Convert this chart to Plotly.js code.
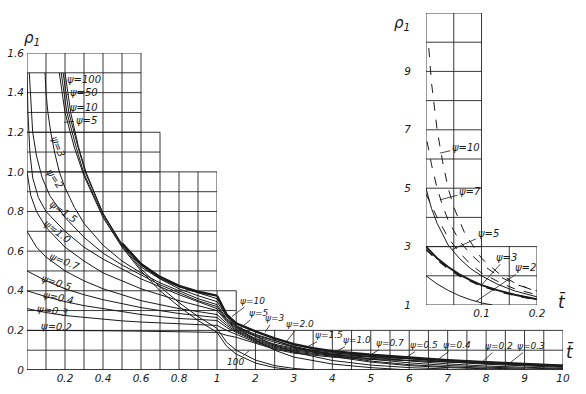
<!DOCTYPE html>
<html><head><meta charset="utf-8">
<script src="https://cdn.plot.ly/plotly-3.0.1.min.js"></script>
<style>html,body{margin:0;padding:0;background:#fff}#chart{width:586px;height:394px}</style>
</head><body><div id="chart"></div>
<script>
// ================= DATA =================
const yTickVals = [0, 0.2, 0.4, 0.6, 0.8, 1.0, 1.2, 1.4, 1.6];
const yTickText = ['0', '0.2', '0.4', '0.6', '0.8', '1.0', '1.2', '1.4', '1.6'];
const xLeftTickVals = [0.2, 0.4, 0.6, 0.8, 1];
const xLeftTickText = ['0.2', '0.4', '0.6', '0.8', '1'];
const xRightTickVals = [2, 3, 4, 5, 6, 7, 8, 9, 10];
const xRightTickText = ['2', '3', '4', '5', '6', '7', '8', '9', '10'];
const insetXTickVals = [0.1, 0.2];
const insetXTickText = ['0.1', '0.2'];
const insetYTickVals = [1, 3, 5, 7, 9];
const insetYTickText = ['1', '3', '5', '7', '9'];

// main chart curves  rho1(t) for each psi
const t_psi100 = [0.17,0.2,0.25,0.3,0.4,0.5,0.6,0.7,0.8,0.9,1,1.25,1.5,2,2.5,3];
const r_psi100 = [1.5,1.3,1.12,0.98,0.77,0.62,0.5,0.4,0.32,0.25,0.19,0.12,0.08,0.035,0.012,0];
const t_psi50 = [0.18,0.21,0.26,0.3,0.4,0.5,0.6,0.7,0.8,0.9,1,1.25,1.5,2,2.5,3,3.5];
const r_psi50 = [1.5,1.3,1.12,0.99,0.78,0.625,0.51,0.42,0.34,0.27,0.21,0.14,0.1,0.05,0.022,0.008,0];
const t_psi10 = [0.2,0.23,0.27,0.31,0.4,0.5,0.6,0.7,0.8,0.9,1,1.25,1.5,2,2.5,3,4,5,6];
const r_psi10 = [1.5,1.3,1.13,1.0,0.79,0.63,0.52,0.46,0.42,0.39,0.36,0.275,0.22,0.15,0.1,0.065,0.03,0.012,0];
const t_psi5 = [0.19,0.22,0.27,0.31,0.4,0.5,0.6,0.7,0.8,0.9,1,1.25,1.5,2,2.5,3,4,5,6,7];
const r_psi5 = [1.5,1.3,1.12,0.99,0.79,0.635,0.53,0.46,0.41,0.375,0.345,0.27,0.225,0.17,0.125,0.09,0.048,0.025,0.012,0.005];
const t_psi3 = [0.095,0.1,0.11,0.125,0.145,0.17,0.2,0.25,0.3,0.4,0.5,0.6,0.7,0.8,0.9,1,1.25,1.5,2,2.5,3,4,5,6,7,8];
const r_psi3 = [1.5,1.4,1.3,1.2,1.1,1.0,0.92,0.82,0.74,0.63,0.55,0.49,0.44,0.4,0.36,0.33,0.26,0.22,0.18,0.15,0.115,0.068,0.04,0.022,0.012,0.006];
const t_psi2 = [0.012,0.02,0.03,0.05,0.08,0.12,0.2,0.3,0.4,0.5,0.6,0.7,0.8,0.9,1,1.25,1.5,2,2.5,3,4,5,6,7,8,9];
const r_psi2 = [1.5,1.35,1.2,1.08,0.97,0.88,0.77,0.67,0.59,0.53,0.48,0.43,0.39,0.35,0.32,0.255,0.215,0.175,0.148,0.12,0.075,0.045,0.027,0.016,0.009,0.005];
const t_psi15 = [0,0.005,0.015,0.03,0.06,0.1,0.2,0.3,0.4,0.5,0.6,0.7,0.8,0.9,1,1.25,1.5,2,2.5,3,4,5,6,7,8,9,10];
const r_psi15 = [1.5,1.3,1.1,0.97,0.87,0.8,0.7,0.62,0.56,0.51,0.46,0.42,0.38,0.345,0.31,0.25,0.21,0.17,0.14,0.115,0.08,0.055,0.036,0.023,0.014,0.008,0.005];
const t_psi10b = [0,0.02,0.05,0.1,0.2,0.3,0.4,0.5,0.6,0.7,0.8,0.9,1,1.25,1.5,2,2.5,3,4,5,6,7,8,9,10];
const r_psi10b = [1.0,0.88,0.8,0.72,0.62,0.55,0.49,0.45,0.41,0.38,0.35,0.325,0.30,0.245,0.205,0.16,0.13,0.11,0.09,0.066,0.046,0.031,0.02,0.013,0.008];
const t_psi07 = [0,0.05,0.1,0.2,0.3,0.4,0.5,0.6,0.7,0.8,0.9,1,1.25,1.5,2,2.5,3,4,5,6,7,8,9,10];
const r_psi07 = [0.7,0.62,0.57,0.5,0.45,0.41,0.38,0.35,0.33,0.31,0.295,0.28,0.235,0.2,0.155,0.125,0.105,0.085,0.075,0.057,0.041,0.029,0.02,0.013];
const t_low = [0,0.1,0.2,0.3,0.4,0.5,0.6,0.7,0.8,0.9,1,1.25,1.5,2,2.5,3,4,5,6,7,8,9,10];
const r_psi05 = [0.5,0.45,0.41,0.38,0.355,0.335,0.315,0.3,0.285,0.275,0.265,0.225,0.195,0.15,0.12,0.1,0.08,0.07,0.06,0.047,0.035,0.025,0.017];
const r_psi04 = [0.4,0.37,0.345,0.325,0.31,0.295,0.28,0.27,0.26,0.255,0.25,0.215,0.19,0.145,0.115,0.095,0.075,0.064,0.056,0.05,0.039,0.029,0.02];
const r_psi03 = [0.31,0.29,0.275,0.265,0.255,0.248,0.242,0.237,0.232,0.228,0.225,0.2,0.18,0.14,0.11,0.09,0.07,0.058,0.048,0.04,0.032,0.025,0.02];
const t_psi02 = [0,0.2,0.4,0.6,0.8,1,1.25,1.5,2,2.5,3,4,5,6,7,8,9,10];
const r_psi02 = [0.2,0.2,0.198,0.196,0.193,0.19,0.175,0.165,0.135,0.105,0.085,0.065,0.053,0.046,0.042,0.038,0.03,0.024];
// thick boundary line
const t_env = [0.5,0.6,0.7,0.8,0.9,1,1.25,1.5,2,2.5,3,3.5,4,5,6,7,8,9,10];
const r_env = [0.64,0.535,0.47,0.425,0.395,0.375,0.28,0.235,0.195,0.16,0.13,0.11,0.095,0.077,0.062,0.05,0.04,0.03,0.022];

// inset curves
const ti_psi10 = [0.005,0.01,0.02,0.03,0.04,0.05,0.07,0.1,0.13,0.16,0.2];
const ri_psi10 = [9.8,8.6,7.0,5.9,5.0,4.35,3.45,2.6,2.1,1.75,1.45];
const ti_psi7 = [0.002,0.01,0.02,0.03,0.04,0.06,0.08,0.1,0.13,0.16,0.2];
const ri_psi7 = [6.6,5.8,5.0,4.4,3.9,3.2,2.75,2.4,2.0,1.72,1.48];
const ti_psi5 = [0,0.01,0.02,0.03,0.04,0.06,0.08,0.1,0.13,0.16,0.2];
const ri_psi5 = [5,4.3,3.8,3.4,3.05,2.6,2.25,2.0,1.7,1.48,1.28];
const ti_psi5d = [0,0.01,0.02,0.04,0.06,0.08,0.1,0.13,0.16,0.2];
const ri_psi5d = [4.8,4.4,4.0,3.3,2.8,2.4,2.1,1.8,1.55,1.35];
const ti_psi3 = [0,0.02,0.04,0.06,0.08,0.1,0.13,0.16,0.2];
const ri_psi3 = [3,2.6,2.3,2.05,1.85,1.68,1.5,1.35,1.2];
const ri_psi3d = [2.9,2.55,2.25,2.0,1.82,1.65,1.47,1.33,1.18];
const ti_psi2 = [0,0.02,0.04,0.06,0.08,0.1,0.12];
const ri_psi2 = [2,1.72,1.5,1.32,1.18,1.07,1.0];

// ================= BUILD =================
const W = 586, H = 394;
const INK = '#1a1a1a';
const FONT = 'DejaVu Sans';
const traces = [];

function addMain(t, r, width) {
  const lx = [], ly = [], rx = [], ry = [];
  t.forEach((v, i) => {
    if (v <= 1) { lx.push(v); ly.push(r[i]); }
    if (v >= 1) { rx.push(v); ry.push(r[i]); }
  });
  const line = {color: INK, width: width || 1};
  if (lx.length > 1) traces.push({x: lx, y: ly, xaxis: 'x', yaxis: 'y', mode: 'lines', line, hoverinfo: 'skip', showlegend: false});
  if (rx.length > 1) traces.push({x: rx, y: ry, xaxis: 'x2', yaxis: 'y', mode: 'lines', line, hoverinfo: 'skip', showlegend: false});
}
[[t_psi100, r_psi100], [t_psi50, r_psi50], [t_psi10, r_psi10], [t_psi5, r_psi5], [t_psi3, r_psi3],
 [t_psi2, r_psi2], [t_psi15, r_psi15], [t_psi10b, r_psi10b], [t_psi07, r_psi07],
 [t_low, r_psi05], [t_low, r_psi04], [t_low, r_psi03], [t_psi02, r_psi02]].forEach(c => addMain(c[0], c[1], 1));
addMain(t_env, r_env, 2.4);

function addInset(t, r, dash, width) {
  traces.push({x: t, y: r, xaxis: 'x3', yaxis: 'y3', mode: 'lines',
    line: {color: INK, width: width, dash: dash}, hoverinfo: 'skip', showlegend: false});
}
addInset(ti_psi10, ri_psi10, 'dash', 1);
addInset(ti_psi7, ri_psi7, 'dash', 1);
addInset(ti_psi5, ri_psi5, 'solid', 1);
addInset(ti_psi5d, ri_psi5d, 'dash', 1);
addInset(ti_psi3, ri_psi3, 'solid', 2);
addInset(ti_psi3, ri_psi3d, 'dash', 1.6);
addInset(ti_psi2, ri_psi2, 'solid', 1);

// grid (staircase blocks)
const shapes = [];
function block(xref, yref, x0, x1, nx, y0, y1, ny) {
  const ln = {color: '#222', width: 0.9};
  for (let i = 0; i <= nx; i++) {
    const xv = x0 + (x1 - x0) * i / nx;
    shapes.push({type: 'line', xref, yref, x0: xv, x1: xv, y0, y1, line: ln, layer: 'below'});
  }
  for (let j = 0; j <= ny; j++) {
    const yv = y0 + (y1 - y0) * j / ny;
    shapes.push({type: 'line', xref, yref, x0, x1, y0: yv, y1: yv, line: ln, layer: 'below'});
  }
}
block('x', 'y', 0, 1, 10, 0, 1.0, 10);
block('x', 'y', 0, 0.7, 7, 1.0, 1.2, 2);
block('x', 'y', 0, 0.6, 6, 1.2, 1.6, 4);
block('x2', 'y', 1, 10, 18, 0, 0.2, 2);
block('x2', 'y', 1, 1.5, 1, 0.2, 0.4, 2);
block('x3', 'y3', 0, 0.1, 2, 3, 11, 8);
block('x3', 'y3', 0, 0.2, 4, 1, 3, 2);
// thicker bottom axis
shapes.push({type: 'line', xref: 'x', yref: 'y', x0: 0, x1: 1, y0: 0, y1: 0, line: {color: INK, width: 1.6}});
shapes.push({type: 'line', xref: 'x2', yref: 'y', x0: 1, x1: 10, y0: 0, y1: 0, line: {color: INK, width: 1.6}});

// annotations
const lblFont = {family: FONT, size: 10, color: INK, style: 'italic'};
const smallFont = {family: FONT, size: 9, color: INK, style: 'italic'};
const ann = [];
function arrowLbl(xref, yref, x, y, text, ax, ay, f) {
  ann.push({xref, yref, x, y, text, ax, ay, showarrow: true, arrowhead: 0, arrowwidth: 0.8,
    arrowcolor: INK, standoff: 0, font: f || lblFont});
}
function rotLbl(xref, yref, x, y, text, ang) {
  ann.push({xref, yref, x, y, text, showarrow: false, textangle: ang, font: lblFont});
}
// left labels
arrowLbl('x', 'y', 0.21, 1.46, 'ψ=100', 17, -1);
arrowLbl('x', 'y', 0.21, 1.39, 'ψ=50', 17, -2);
arrowLbl('x', 'y', 0.22, 1.31, 'ψ=10', 15, -3);
arrowLbl('x', 'y', 0.195, 1.25, 'ψ=5', 22, -2);
rotLbl('x', 'y', 0.165, 1.13, 'ψ=3', 68);
rotLbl('x', 'y', 0.145, 0.965, 'ψ=2', 55);
rotLbl('x', 'y', 0.19, 0.80, 'ψ=1.5', 35);
rotLbl('x', 'y', 0.16, 0.70, 'ψ=1.0', 38);
rotLbl('x', 'y', 0.2, 0.55, 'ψ=0.7', 22);
rotLbl('x', 'y', 0.155, 0.44, 'ψ=0.5', 18);
rotLbl('x', 'y', 0.165, 0.368, 'ψ=0.4', 12);
rotLbl('x', 'y', 0.135, 0.302, 'ψ=0.3', 8);
rotLbl('x', 'y', 0.155, 0.218, 'ψ=0.2', 3);
// right labels
arrowLbl('x2', 'y', 1.39, 0.27, 'ψ=10', 21, -16, smallFont);
arrowLbl('x2', 'y', 1.6, 0.21, 'ψ=5', 18, -15, smallFont);
arrowLbl('x2', 'y', 2.25, 0.19, 'ψ=3', 9, -14, smallFont);
arrowLbl('x2', 'y', 2.77, 0.135, 'ψ=2.0', 15, -19, smallFont);
arrowLbl('x2', 'y', 3.24, 0.105, 'ψ=1.5', 26, -14, smallFont);
arrowLbl('x2', 'y', 4.07, 0.09, 'ψ=1.0', 22, -12, smallFont);
arrowLbl('x2', 'y', 4.98, 0.075, 'ψ=0.7', 20, -12, smallFont);
arrowLbl('x2', 'y', 5.9, 0.06, 'ψ=0.5', 19, -13, smallFont);
arrowLbl('x2', 'y', 6.73, 0.05, 'ψ=0.4', 20, -15, smallFont);
arrowLbl('x2', 'y', 7.9, 0.04, 'ψ=0.2', 17, -16, smallFont);
arrowLbl('x2', 'y', 8.55, 0.025, 'ψ=0.3', 24, -19, smallFont);
arrowLbl('x2', 'y', 1.85, 0.1, '100', -14, 12, smallFont);
// inset labels
arrowLbl('x3', 'y3', 0.025, 6.2, 'ψ=10', 26, -6);
arrowLbl('x3', 'y3', 0.025, 4.6, 'ψ=7', 30, -8);
arrowLbl('x3', 'y3', 0.047, 2.9, 'ψ=5', 36, -16);
arrowLbl('x3', 'y3', 0.1, 1.68, 'ψ=3', 25, -28);
arrowLbl('x3', 'y3', 0.09, 1.12, 'ψ=2', 50, -34);
// axis names (paper coords from pixel positions)
function paperLbl(px, py, text, size) {
  ann.push({xref: 'paper', yref: 'paper', x: px / W, y: 1 - py / H, text, showarrow: false,
    font: {family: FONT, size, color: INK, style: 'italic'}});
}
paperLbl(22, 27, 'ρ<sub>1</sub>', 15);
paperLbl(412, 12, 'ρ<sub>1</sub>', 15);
paperLbl(576, 364, 't\u0304', 17);
paperLbl(568, 314, 't\u0304', 17);

const tickFont = {family: FONT, size: 10.5, color: INK, style: 'italic'};
const baseAx = {showgrid: false, zeroline: false, showline: false, ticks: '', tickfont: tickFont, fixedrange: true};
const layout = {
  width: W, height: H,
  margin: {l: 0, r: 0, t: 0, b: 0},
  paper_bgcolor: '#fff', plot_bgcolor: 'rgba(0,0,0,0)',
  showlegend: false,
  xaxis: Object.assign({}, baseAx, {domain: [27 / W, 217 / W], range: [0, 1], anchor: 'y',
    tickvals: xLeftTickVals, ticktext: xLeftTickText}),
  xaxis2: Object.assign({}, baseAx, {domain: [217 / W, 563 / W], range: [1, 10], anchor: 'y',
    tickvals: xRightTickVals, ticktext: xRightTickText}),
  yaxis: Object.assign({}, baseAx, {domain: [24 / H, 341 / H], range: [0, 1.6], anchor: 'x',
    tickvals: yTickVals, ticktext: yTickText, ticklabelstandoff: 2}),
  xaxis3: Object.assign({}, baseAx, {domain: [426 / W, 537 / W], range: [0, 0.2], anchor: 'y3',
    tickvals: insetXTickVals, ticktext: insetXTickText}),
  yaxis3: Object.assign({}, baseAx, {domain: [89 / H, 381 / H], range: [1, 11], anchor: 'x3',
    tickvals: insetYTickVals, ticktext: insetYTickText, ticklabelstandoff: 14}),
  shapes, annotations: ann
};
Plotly.newPlot('chart', traces, layout, {displayModeBar: false, staticPlot: true});
</script></body></html>
